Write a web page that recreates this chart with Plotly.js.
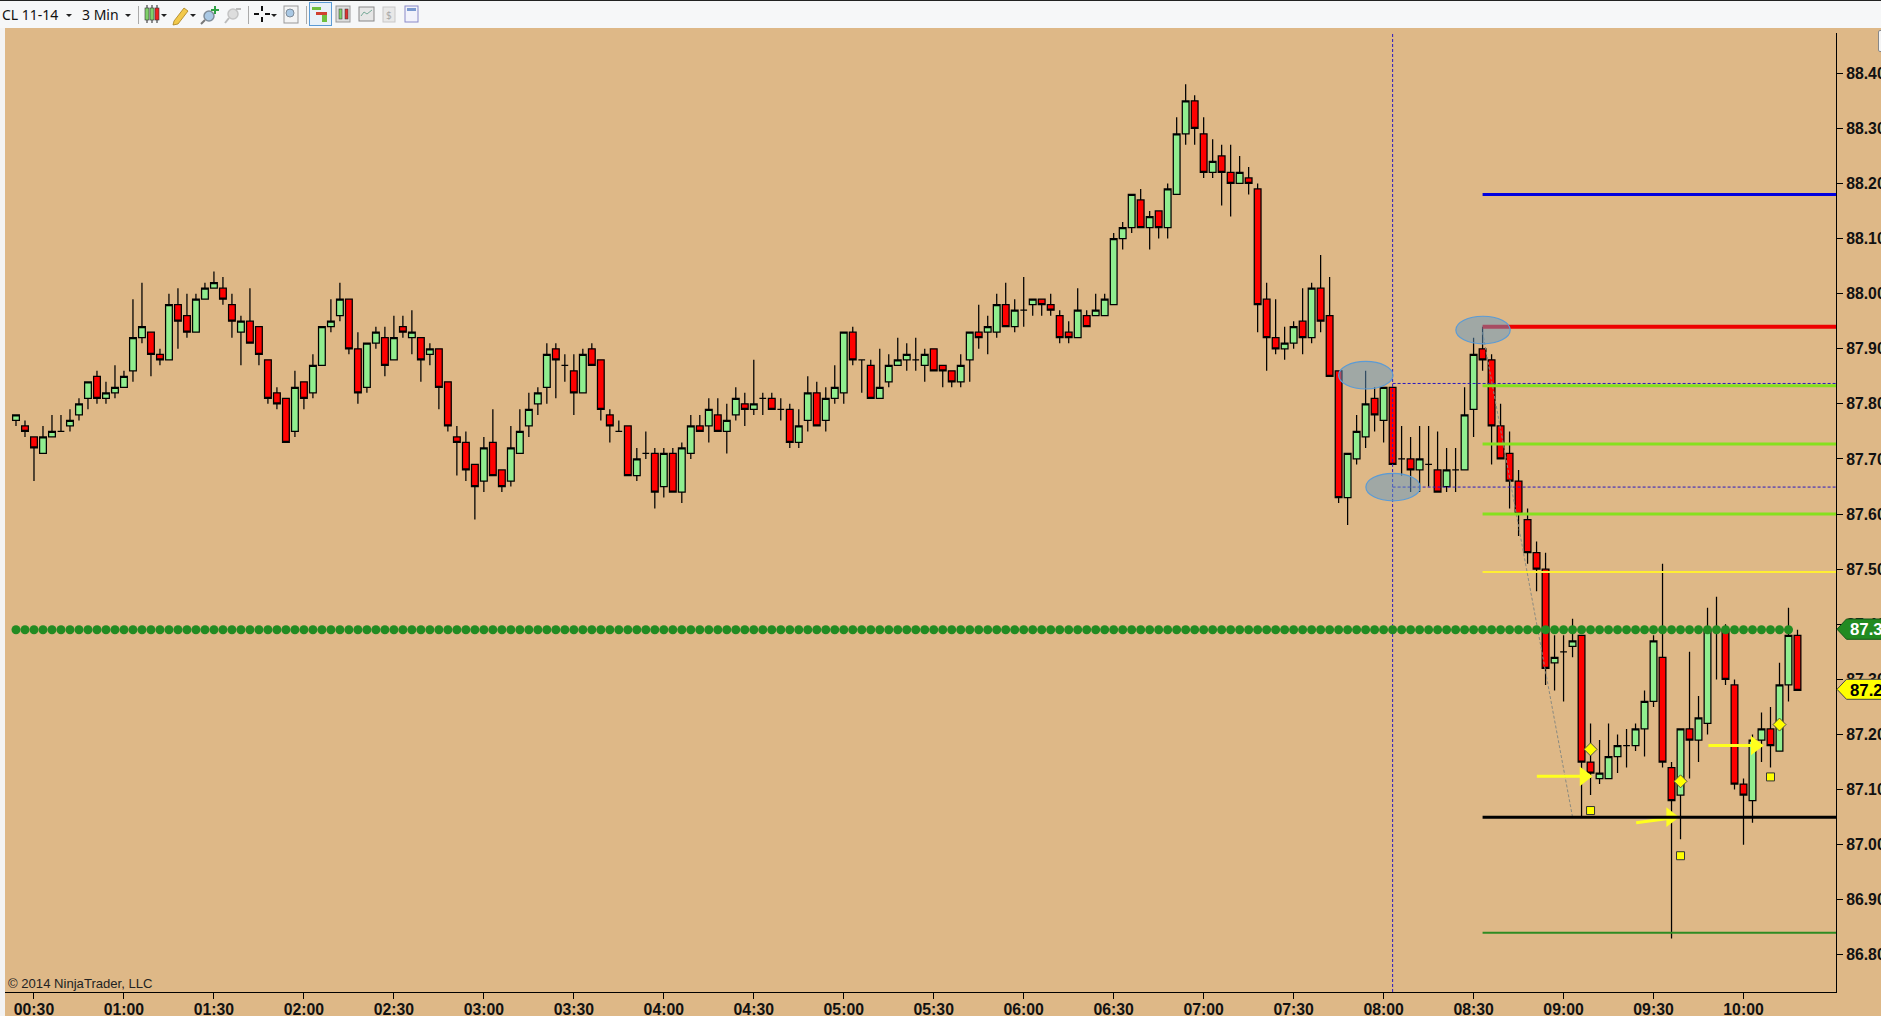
<!DOCTYPE html>
<html>
<head>
<meta charset="utf-8">
<script src="https://cdn.plot.ly/plotly-3.0.1.min.js"></script>
<style>
html,body{margin:0;padding:0;background:#f4f4f4;overflow:hidden;width:1881px;height:1016px}
#chart{position:absolute;left:0;top:0;width:1881px;height:1016px}
#bar{position:absolute;left:0;top:0;width:1881px;height:28px;pointer-events:none}
#strip{position:absolute;left:0;top:28px;width:5px;height:988px;background:#f3f3f3}
#corner{position:absolute;left:1878px;top:30px;width:6px;height:20px;background:#f4f4f4;border:1px solid #888;border-radius:2px}
</style>
</head>
<body>
<div id="chart"></div>
<div id="strip"></div>
<div id="corner"></div>
<svg id="bar" width="1881" height="28" viewBox="0 0 1881 28">
  <rect width="1881" height="28" fill="#f6f7f8"/>
  <rect width="1881" height="1" fill="#222"/>
  <g font-family="'Noto Sans',sans-serif" font-size="14" fill="#111">
    <text x="2" y="19.5">CL 11-14</text>
    <text x="82" y="19.5">3 Min</text>
  </g>
  <g fill="#222">
    <path d="M66 14l6 0-3 3z"/><path d="M125 14l6 0-3 3z"/><path d="M161 14l6 0-3 3z"/>
    <path d="M190 14l6 0-3 3z"/><path d="M271 14l6 0-3 3z"/>
  </g>
  <g stroke="#aaa"><path d="M138.500 6V24M248.500 6V24M306.500 6V24"/></g>
  <g stroke="#222" stroke-width="1"><path d="M147 5V23M152 5V23M157 5V23"/></g>
  <rect x="145" y="8" width="4" height="12" fill="#7fd06a" stroke="#333" stroke-width=".6"/>
  <rect x="150" y="8" width="4" height="12" fill="#7fd06a" stroke="#333" stroke-width=".6"/>
  <rect x="155" y="8" width="4" height="12" fill="#e22" stroke="#333" stroke-width=".6"/>
  <path d="M174 21l10-13 4 3-10 13-5 1z" fill="#f2c94c" stroke="#a8801c" stroke-width=".8"/>
  <circle cx="209" cy="16" r="5" fill="#a9c8e4" stroke="#7f8c99" stroke-width="1.500"/>
  <path d="M205 20l-4 4" stroke="#777" stroke-width="2"/>
  <path d="M214 6h2v3h3v2h-3v3h-2v-3h-3V9h3z" fill="#2ea043"/>
  <circle cx="233" cy="14" r="5" fill="#ddd" stroke="#c4c4c4" stroke-width="1.500"/>
  <path d="M229 18l-4 5" stroke="#bbb" stroke-width="2"/><path d="M236 8h5v2h-5z" fill="#bbb"/>
  <path d="M262 6v5M262 17v5M254 14h5M265 14h5" stroke="#111" stroke-width="2"/>
  <rect x="284" y="6" width="14" height="17" fill="#f4f4f4" stroke="#999"/>
  <circle cx="290" cy="13" r="4" fill="#a9c8e4" stroke="#7f8c99"/>
  <rect x="309.500" y="2.500" width="22" height="23" fill="#e8f1f8" stroke="#5b9bd5"/>
  <rect x="312" y="7" width="9" height="3" fill="#6fbf3f"/><rect x="316" y="12" width="11" height="3" fill="#d04030"/>
  <rect x="322" y="15" width="5" height="7" fill="#6fbf3f"/>
  <rect x="336" y="6" width="14" height="16" fill="#ddd" stroke="#999"/>
  <rect x="339" y="9" width="3" height="10" fill="#7fd06a" stroke="#333" stroke-width=".5"/>
  <rect x="345" y="9" width="3" height="10" fill="#d33" stroke="#333" stroke-width=".5"/>
  <rect x="359" y="7" width="15" height="14" fill="#e6e6e6" stroke="#888"/>
  <path d="M361 16l3-4 3 2 5-4" fill="none" stroke="#7a9" stroke-width="1"/>
  <rect x="383" y="7" width="12" height="15" fill="#e8e8e8" stroke="#c8c8c8"/>
  <text x="386" y="18.500" font-family="'Noto Sans',sans-serif" font-size="10" fill="#aaa">$</text>
  <rect x="405" y="6" width="13" height="16" fill="#f2f2fb" stroke="#8a8ac8"/>
  <rect x="407" y="8" width="9" height="3" fill="#7b9ad0"/>
</svg>
<script>
// Bar index 0 is the 00:24 bar; one bar every three minutes.
var opens = [
87.77,87.76,87.74,87.71,87.74,87.75,87.76,87.78,87.81,87.85,
87.81,87.82,87.83,87.86,87.92,87.93,87.89,87.88,87.98,87.96,
87.93,87.99,88.01,88.01,87.98,87.93,87.95,87.94,87.88,87.82,
87.81,87.75,87.84,87.82,87.87,87.94,87.96,87.99,87.90,87.83,
87.91,87.92,87.88,87.94,87.92,87.92,87.89,87.90,87.84,87.74,
87.73,87.69,87.66,87.73,87.68,87.66,87.71,87.76,87.80,87.83,
87.90,87.87,87.86,87.82,87.90,87.88,87.78,87.75,87.76,87.67,
87.71,87.71,87.65,87.71,87.64,87.71,87.76,87.76,87.78,87.75,
87.78,87.80,87.79,87.81,87.81,87.79,87.79,87.73,87.77,87.82,
87.77,87.81,87.82,87.93,87.88,87.87,87.81,87.84,87.87,87.88,
87.88,87.87,87.90,87.87,87.86,87.84,87.88,87.93,87.93,87.93,
87.98,87.94,87.97,87.98,87.99,87.98,87.96,87.93,87.92,87.96,
87.96,87.96,87.98,88.10,88.12,88.17,88.12,88.15,88.12,88.18,
88.29,88.35,88.29,88.22,88.25,88.22,88.20,88.21,88.19,87.99,
87.92,87.90,87.91,87.95,87.92,88.01,87.96,87.86,87.63,87.70,
87.74,87.81,87.77,87.83,87.70,87.70,87.68,87.69,87.68,87.65,
87.68,87.68,87.79,87.90,87.88,87.76,87.71,87.66,87.59,87.53,
87.50,87.33,87.35,87.36,87.38,87.15,87.12,87.12,87.16,87.18,
87.18,87.21,87.26,87.34,87.14,87.09,87.21,87.19,87.22,87.39,
87.39,87.29,87.11,87.08,87.19,87.21,87.17,87.29,87.38];
var highs = [
87.78,87.77,87.74,87.76,87.78,87.78,87.79,87.81,87.84,87.86,
87.84,87.87,87.86,87.99,88.02,87.93,87.90,88.00,88.01,88.00,
88.00,88.02,88.04,88.03,88.00,87.96,88.01,87.94,87.88,87.83,
87.81,87.86,87.84,87.89,87.94,87.99,88.02,87.99,87.93,87.91,
87.94,87.94,87.96,87.96,87.97,87.92,87.91,87.90,87.84,87.76,
87.75,87.69,87.74,87.79,87.68,87.76,87.79,87.82,87.83,87.91,
87.91,87.89,87.89,87.90,87.91,87.88,87.79,87.77,87.76,87.72,
87.75,87.72,87.72,87.72,87.73,87.78,87.78,87.81,87.81,87.80,
87.83,87.82,87.88,87.82,87.82,87.81,87.80,87.79,87.85,87.84,
87.83,87.87,87.93,87.94,87.88,87.88,87.90,87.89,87.92,87.91,
87.92,87.90,87.90,87.87,87.86,87.89,87.93,87.98,87.96,88.00,
88.02,87.99,88.03,87.99,87.99,88.00,87.97,87.95,88.01,87.97,
88.00,88.00,88.11,88.13,88.18,88.19,88.15,88.15,88.20,88.32,
88.38,88.36,88.32,88.28,88.27,88.27,88.25,88.23,88.20,88.02,
87.99,87.94,87.95,88.01,88.02,88.07,88.03,87.86,87.71,87.78,
87.86,87.83,87.83,87.83,87.76,87.74,87.76,87.76,87.75,87.72,
87.72,87.83,87.92,87.94,87.89,87.80,87.75,87.68,87.61,87.55,
87.53,87.38,87.38,87.41,87.38,87.22,87.19,87.22,87.20,87.21,
87.22,87.28,87.38,87.51,87.15,87.21,87.35,87.27,87.43,87.45,
87.40,87.30,87.12,87.20,87.24,87.25,87.33,87.43,87.39];
var lows = [
87.76,87.74,87.66,87.71,87.74,87.75,87.75,87.77,87.79,87.80,
87.80,87.81,87.83,87.84,87.91,87.85,87.87,87.88,87.90,87.92,
87.93,87.99,88.01,87.98,87.92,87.87,87.91,87.87,87.80,87.79,
87.73,87.74,87.79,87.81,87.87,87.93,87.95,87.89,87.80,87.82,
87.90,87.85,87.88,87.92,87.89,87.84,87.87,87.79,87.75,87.67,
87.66,87.59,87.64,87.67,87.64,87.65,87.71,87.74,87.78,87.80,
87.81,87.84,87.78,87.82,87.87,87.77,87.73,87.75,87.67,87.66,
87.70,87.61,87.63,87.64,87.62,87.70,87.75,87.73,87.75,87.71,
87.77,87.76,87.78,87.78,87.79,87.77,87.72,87.72,87.75,87.76,
87.75,87.80,87.80,87.87,87.82,87.81,87.81,87.83,87.87,87.86,
87.86,87.84,87.86,87.83,87.83,87.83,87.84,87.90,87.89,87.92,
87.94,87.93,87.94,87.96,87.96,87.96,87.91,87.91,87.92,87.94,
87.96,87.96,87.98,88.08,88.11,88.12,88.08,88.10,88.10,88.18,
88.27,88.27,88.21,88.21,88.16,88.14,88.20,88.18,87.93,87.86,
87.89,87.88,87.90,87.89,87.91,87.93,87.85,87.62,87.58,87.69,
87.72,87.75,87.73,87.69,87.67,87.64,87.64,87.65,87.64,87.64,
87.64,87.68,87.74,87.86,87.69,87.70,87.61,87.56,87.51,87.46,
87.29,87.28,87.26,87.34,87.05,87.09,87.11,87.12,87.13,87.14,
87.17,87.16,87.25,87.14,86.83,87.01,87.12,87.15,87.20,87.30,
87.29,87.10,87.00,87.04,87.15,87.14,87.17,87.26,87.28];
var closes = [
87.78,87.75,87.72,87.74,87.75,87.75,87.77,87.80,87.84,87.81,
87.82,87.83,87.85,87.92,87.94,87.89,87.88,87.98,87.95,87.93,
87.99,88.01,88.02,87.99,87.95,87.95,87.91,87.89,87.81,87.80,
87.73,87.83,87.81,87.87,87.94,87.95,87.99,87.90,87.82,87.91,
87.93,87.87,87.92,87.93,87.93,87.88,87.90,87.83,87.76,87.73,
87.68,87.65,87.72,87.67,87.65,87.72,87.75,87.79,87.82,87.89,
87.88,87.87,87.82,87.89,87.87,87.79,87.76,87.75,87.67,87.70,
87.71,87.64,87.71,87.64,87.72,87.76,87.75,87.79,87.75,87.77,
87.81,87.79,87.80,87.81,87.79,87.79,87.73,87.76,87.82,87.76,
87.81,87.83,87.93,87.88,87.88,87.81,87.83,87.87,87.88,87.89,
87.88,87.89,87.86,87.86,87.84,87.87,87.93,87.92,87.94,87.98,
87.94,87.97,87.97,87.99,87.98,87.97,87.92,87.92,87.97,87.94,
87.97,87.99,88.10,88.12,88.18,88.12,88.14,88.12,88.19,88.29,
88.35,88.30,88.22,88.24,88.22,88.20,88.22,88.20,87.98,87.92,
87.90,87.91,87.94,87.92,88.01,87.95,87.85,87.63,87.71,87.75,
87.80,87.78,87.83,87.69,87.70,87.68,87.70,87.69,87.64,87.68,
87.68,87.78,87.89,87.88,87.76,87.70,87.66,87.60,87.53,87.50,
87.32,87.34,87.35,87.37,87.15,87.13,87.13,87.16,87.18,87.18,
87.21,87.26,87.37,87.15,87.08,87.21,87.19,87.23,87.39,87.39,
87.30,87.11,87.09,87.19,87.21,87.18,87.29,87.38,87.28];

var timeTicks = ["00:30","01:00","01:30","02:00","02:30","03:00","03:30","04:00","04:30","05:00",
                 "05:30","06:00","06:30","07:00","07:30","08:00","08:30","09:00","09:30","10:00"];
var timeTickBars = [2,12,22,32,42,52,62,72,82,92,102,112,122,132,142,152,162,172,182,192];
var priceTicks = [86.8,86.9,87.0,87.1,87.2,87.3,87.4,87.5,87.6,87.7,87.8,87.9,88.0,88.1,88.2,88.3,88.4];

var bars = opens.map(function(_, i){ return i; });
var dotLevel = 87.39;
var dotBars = bars.slice(0, 198);
var lastPrice = 87.28;

var levelStartBar = 163;
var rightEdgeBar = 202.28;
var blueLevel = 88.18;
var redLevel = 87.94;
var limeLevels = [87.833, 87.727, 87.60];
var yellowLevel = 87.495;
var blackLevel = 87.05;
var greenLevel = 86.84;
var dashedBar = 153;
var dashedLevels = [87.837, 87.649];

var ellipseBarsFrom = [147.0, 150.03, 160.03];
var ellipseBarsTo   = [153.03, 156.07, 166.07];
var ellipseTop      = [87.877, 87.674, 87.959];
var ellipseBottom   = [87.827, 87.624, 87.909];

var trendBars = [163, 173];
var trendPrices = [87.93, 87.05];

var arrowFromBar = [169.03, 180.07, 188.1];
var arrowToBar   = [175.07, 184.7, 194.1];
var arrowFromPrice = [87.124, 87.04, 87.18];
var arrowToPrice   = [87.124, 87.05, 87.18];

var squareBars = [175, 185, 195];
var squarePrices = [87.062, 86.98, 87.123];
var diamondBars = [175, 185, 196];
var diamondPrices = [87.173, 87.115, 87.218];

var Y_MIN = 86.7327, Y_MAX = 88.473, X_MIN = -1.222;
var L = 5, T = 33, R = 1836.5, B = 992, W = R - L, H = B - T;
function px(v){ return (v - L) / W; }
function py(v){ return 1 - (v - T) / H; }

function hline(x0, x1, y, color, width, dash){
  return {type:'scatter', mode:'lines', x:[x0, x1], y:[y, y], hoverinfo:'skip',
          line:{color:color, width:width, dash:dash || 'solid'}};
}

var traces = [{
  type:'candlestick', x:bars, open:opens, high:highs, low:lows, close:closes,
  whiskerwidth:0, line:{width:1.25}, hoverinfo:'skip',
  increasing:{line:{color:'#000', width:1.25}, fillcolor:'#90EE90'},
  decreasing:{line:{color:'#000', width:1.25}, fillcolor:'#FF0000'}
}];
traces.push({type:'scatter', mode:'lines', x:trendBars, y:trendPrices, hoverinfo:'skip',
             line:{color:'#8a8a80', width:1, dash:'3px,2px'}});
dashedLevels.forEach(function(p){ traces.push(hline(dashedBar, rightEdgeBar, p, '#2a18c0', 1, '3px,2px')); });
traces.push({type:'scatter', mode:'lines', x:[dashedBar, dashedBar], y:[Y_MIN, Y_MAX], hoverinfo:'skip',
             line:{color:'#2a18c0', width:1, dash:'3px,2px'}});
traces.push(hline(levelStartBar, rightEdgeBar, blueLevel, '#0000E0', 3));
traces.push(hline(levelStartBar, rightEdgeBar, redLevel, '#EE0000', 4));
limeLevels.forEach(function(p){ traces.push(hline(levelStartBar, rightEdgeBar, p, '#86E01E', 3)); });
traces.push(hline(levelStartBar, rightEdgeBar, yellowLevel, '#FFEE33', 2));
traces.push({type:'scatter', mode:'markers', x:dotBars, y:dotBars.map(function(){ return dotLevel; }), hoverinfo:'skip',
             marker:{symbol:'circle', size:9, color:'#228B22', line:{width:0}}});
arrowFromBar.forEach(function(x0, k){
  traces.push({type:'scatter', mode:'lines', x:[x0, arrowToBar[k]], y:[arrowFromPrice[k], arrowToPrice[k]], hoverinfo:'skip',
               line:{color:'#FFFF1E', width:3}});
  traces.push({type:'scatter', mode:'markers', x:[arrowToBar[k] - 0.8], y:[arrowToPrice[k]], hoverinfo:'skip',
               marker:{symbol:'triangle-right', size:17, color:'#FFFF1E', line:{width:0}}});
});
traces.push(hline(levelStartBar, rightEdgeBar, blackLevel, '#000000', 3));
traces.push(hline(levelStartBar, rightEdgeBar, greenLevel, '#2E8B22', 2));
traces.push({type:'scatter', mode:'markers', x:squareBars, y:squarePrices, hoverinfo:'skip',
             marker:{symbol:'square', size:8, color:'#FFFF00', line:{color:'#333', width:1}}});
traces.push({type:'scatter', mode:'markers', x:diamondBars, y:diamondPrices, hoverinfo:'skip',
             marker:{symbol:'diamond', size:10, color:'#FFFF00', line:{color:'#554', width:1}}});

var shapes = ellipseBarsFrom.map(function(x0, k){
  return {type:'circle', xref:'x', yref:'y', x0:x0, x1:ellipseBarsTo[k], y0:ellipseBottom[k], y1:ellipseTop[k],
          fillcolor:'rgba(98,152,195,0.5)', line:{color:'#5B9BD5', width:1.2}, layer:'above'};
});
function tagPath(tipY, top, bot){
  return 'M '+px(1837.5)+' '+py(tipY)+' L '+px(1847)+' '+py(top)+' L '+px(1884)+' '+py(top)+
         ' L '+px(1884)+' '+py(bot)+' L '+px(1847)+' '+py(bot)+' Z';
}
shapes.push({type:'path', xref:'paper', yref:'paper', path:tagPath(629.2, 619, 639.3),
             fillcolor:'#228B22', line:{color:'#14561a', width:1}, layer:'above'});
shapes.push({type:'path', xref:'paper', yref:'paper', path:tagPath(689.3, 679.3, 699.3),
             fillcolor:'#FFFF00', line:{color:'#444', width:1}, layer:'above'});

var boldFont = {family:'"Liberation Sans", Arial, sans-serif', size:15.8, color:'#111', weight:700};

var layout = {
  width:1881, height:1016,
  margin:{l:L, t:T, r:1881 - R, b:1016 - B, pad:0},
  paper_bgcolor:'#DEB887', plot_bgcolor:'#DEB887',
  showlegend:false, hovermode:false, dragmode:false, boxgap:0.25, boxgroupgap:0,
  xaxis:{type:'linear', range:[X_MIN, rightEdgeBar], rangeslider:{visible:false}, showgrid:false, zeroline:false,
         showline:true, linecolor:'#000', linewidth:1, ticks:'outside', ticklen:6, tickcolor:'#000', tickwidth:1,
         tickmode:'array', tickvals:timeTickBars, ticktext:timeTicks, tickfont:boldFont, ticklabelstandoff:-3},
  yaxis:{side:'right', range:[Y_MIN, Y_MAX], showgrid:false, zeroline:false,
         showline:true, linecolor:'#000', linewidth:1, ticks:'outside', ticklen:6, tickcolor:'#000', tickwidth:1,
         tickmode:'array', tickvals:priceTicks, ticktext:priceTicks.map(function(p){ return p.toFixed(2); }), tickfont:boldFont},
  shapes:shapes,
  annotations:[
    {xref:'paper', yref:'paper', x:px(6), y:py(993), xanchor:'left', yanchor:'bottom', showarrow:false,
     text:'© 2014 NinjaTrader, LLC', font:{family:'"Liberation Sans", Arial, sans-serif', size:13.1, color:'#222'}},
    {xref:'paper', yref:'y', x:px(1849), y:dotLevel, xanchor:'left', yanchor:'middle', showarrow:false,
     text:dotLevel.toFixed(2), font:{family:'"Liberation Sans", Arial, sans-serif', size:16.8, color:'#fff', weight:700}},
    {xref:'paper', yref:'y', x:px(1849), y:lastPrice, xanchor:'left', yanchor:'middle', showarrow:false,
     text:lastPrice.toFixed(2), font:{family:'"Liberation Sans", Arial, sans-serif', size:16.8, color:'#000', weight:700}}
  ]
};
Plotly.newPlot('chart', traces, layout, {staticPlot:true, displayModeBar:false});
</script>
</body>
</html>
